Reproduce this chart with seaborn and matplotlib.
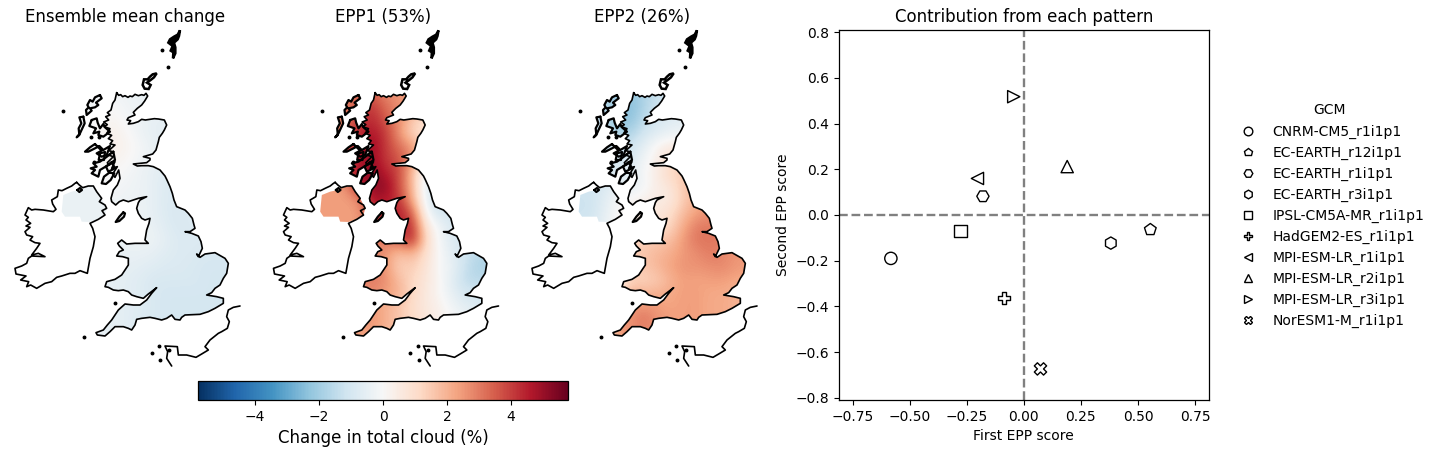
import numpy as np
import pandas as pd
import matplotlib
matplotlib.use("Agg")
import matplotlib.pyplot as plt
from matplotlib.path import Path
from matplotlib.patches import PathPatch
import seaborn as sns

# ---------- scatter data ----------
GCM = ["CNRM-CM5_r1i1p1", "EC-EARTH_r12i1p1", "EC-EARTH_r1i1p1", "EC-EARTH_r3i1p1",
       "IPSL-CM5A-MR_r1i1p1", "HadGEM2-ES_r1i1p1", "MPI-ESM-LR_r1i1p1",
       "MPI-ESM-LR_r2i1p1", "MPI-ESM-LR_r3i1p1", "NorESM1-M_r1i1p1"]
EPP1_SCORE = [-0.582, 0.554, -0.179, 0.381, -0.277, -0.088, -0.203, 0.190, -0.044, 0.073]
EPP2_SCORE = [-0.190, -0.064, 0.082, -0.123, -0.070, -0.363, 0.160, 0.212, 0.518, -0.674]
MARKERS = ["o", "p", "H", "h", "s", "P", "<", "^", ">", "X"]

TITLES = ["Ensemble mean change", "EPP1 (53%)", "EPP2 (26%)"]

# ---------- gridded fields (% change), rows north to south ----------
GRID_X = [180, 220, 260, 300, 340, 380, 420, 460, 500, 540, 580, 620, 660, 700]
GRID_Y = [220, 260, 300, 340, 380, 420, 460, 500, 540, 580, 620, 660, 700, 740, 780, 820, 860, 900, 940]

MEAN_FIELD = [
 [-.3,-.3,-.2,-.2,-.1,-.3,-.4,-.4,-.4,-.4,-.4,-.4,-.4,-.4],
 [-.3,-.3,-.2,-.1, .0,-.2,-.3,-.4,-.4,-.4,-.4,-.4,-.4,-.4],
 [-.3,-.3,-.1, .0, .2,-.1,-.3,-.5,-.5,-.5,-.5,-.5,-.5,-.5],
 [-.3,-.3,-.1, .1, .3, .1,-.3,-.5,-.6,-.6,-.6,-.6,-.6,-.6],
 [-.3,-.3,-.1, .1, .3, .2,-.1,-.4,-.6,-.6,-.6,-.6,-.6,-.6],
 [-.3,-.3,-.1, .0, .2, .1,-.2,-.4,-.6,-.7,-.7,-.7,-.7,-.7],
 [-.3,-.3,-.2, .0, .1,-.1,-.3,-.5,-.7,-.7,-.7,-.7,-.7,-.7],
 [-.4,-.4,-.3,-.2,-.1,-.2,-.3,-.5,-.8,-.8,-.8,-.8,-.8,-.8],
 [-.4,-.4,-.4,-.4,-.2,-.3,-.3,-.5,-.8,-.8,-.8,-.8,-.8,-.8],
 [-.4,-.4,-.4,-.4,-.3,-.3,-.3,-.5,-.8,-.9,-.7,-.7,-.7,-.7],
 [-.4,-.4,-.4,-.4,-.3,-.3,-.3,-.4,-.7,-.9,-.8,-.8,-.8,-.8],
 [-.4,-.4,-.4,-.4,-.4,-.4,-.3,-.3,-.6,-.8,-.8,-.8,-.8,-.8],
 [-.4,-.4,-.4,-.4,-.5,-.4,-.4,-.5,-.7,-.8,-.8,-.9,-.9,-.9],
 [-.4,-.4,-.4,-.4,-.5,-.5,-.6,-.7,-.8,-.8,-.9,-1.,-1.,-1.],
 [-.4,-.4,-.4,-.4,-.5,-.6,-.7,-.9,-.9,-.9,-.9,-1.,-1.,-1.],
 [-.4,-.4,-.4,-.4,-.5,-.6,-.7,-.9,-1.,-1.,-1.,-1.,-1.,-1.],
 [-.4,-.4,-.4,-.5,-.5,-.6,-.7,-.9,-1.,-1.,-1.,-1.,-1.,-1.],
 [-.4,-.4,-.4,-.5,-.5,-.6,-.8,-.9,-1.,-1.,-1.,-1.,-1.,-1.],
 [-.4,-.4,-.4,-.5,-.5,-.6,-.8,-.9,-1.,-1.,-1.,-1.,-1.,-1.],
]
EPP1_FIELD = [
 [2.4,2.4,2.8,3.2,3.4,2.8,2.5,2.4,2.0,1.0,0.,0.,0.,0.],
 [2.4,2.4,3.0,3.6,4.2,3.2,2.7,2.2,1.6,1.0,0.,0.,0.,0.],
 [2.4,2.4,3.2,4.0,4.4,3.6,2.8,1.6,1.0,0.8,0.,0.,0.,0.],
 [2.4,2.4,3.4,4.3,4.7,4.1,2.6,1.2,0.9,0.5,0.,0.,0.,0.],
 [2.4,2.4,3.6,4.6,5.0,4.1,3.2,2.6,1.0,0.,0.,0.,0.,0.],
 [2.4,2.4,3.6,4.6,5.0,4.1,3.7,2.6,0.6,-.2,-.5,0.,0.,0.],
 [2.4,2.4,3.6,4.8,5.3,4.5,3.9,1.8,-.3,-.8,-1.,-1.,-1.,-1.],
 [2.4,2.4,2.5,4.5,5.1,5.2,3.8,2.0,-.6,-1.,-1.1,-1.,-1.,-1.],
 [2.4,2.4,2.4,2.6,4.8,4.6,4.2,2.2,-.4,-1.3,-1.2,-1.,-1.,-1.],
 [2.4,2.4,2.4,2.4,4.0,4.4,4.6,3.6,0.,-1.,-1.,-1.,-1.,-1.],
 [2.4,2.4,2.4,2.4,3.5,4.2,4.2,4.4,0.8,-.2,-.9,-1.,-1.,-1.],
 [2.4,2.4,2.4,2.4,3.0,3.0,3.5,4.6,1.2,-.1,-.8,-1.,-1.,-1.],
 [2.4,2.4,2.4,2.6,2.8,2.6,1.7,2.0,1.0,0.,-.6,-1.2,-1.6,-1.6],
 [2.4,2.4,2.4,2.8,3.0,2.6,1.3,1.5,0.8,0.,-.4,-1.3,-1.8,-1.8],
 [2.4,2.4,2.4,2.8,3.0,2.7,1.8,1.2,0.7,0.1,-.6,-1.5,-1.5,-1.5],
 [2.4,2.4,2.4,2.6,2.8,2.5,2.0,1.2,0.6,0.1,-.5,-1.,-1.1,-1.1],
 [2.4,2.4,2.4,2.5,2.5,2.0,1.6,1.0,0.6,0.3,-.2,-.6,-.8,-.8],
 [2.4,2.4,2.4,2.6,2.6,2.1,1.6,1.2,0.7,0.3,0.,-.3,-.5,-.5],
 [2.4,2.4,2.4,2.4,2.3,2.0,1.5,1.2,0.7,0.3,0.,-.3,-.5,-.5],
]
EPP2_FIELD = [
 [-1.,-1.,-1.6,-2.0,-2.3,-1.8,-1.3,-1.,-1.,-.8,-.6,-.6,-.6,-.6],
 [-1.,-1.,-1.6,-2.2,-2.5,-1.8,-1.2,-1.,-.9,-.8,-.6,-.6,-.6,-.6],
 [-1.,-1.,-1.5,-2.2,-2.4,-1.5,-1.,-.7,-.6,-.6,-.6,-.6,-.6,-.6],
 [-1.,-1.,-1.3,-1.8,-1.8,-1.1,-.7,-.4,-.3,-.3,-.3,-.3,-.3,-.3],
 [-1.,-1.,-1.1,-1.3,-1.2,-.6,0.2,0.5,0.5,0.5,0.5,0.5,0.5,0.5],
 [-1.,-1.,-1.,-1.,-.9,-.2,0.3,1.0,1.2,1.2,1.2,1.2,1.2,1.2],
 [-1.,-1.,-1.,-.8,-.6,-.1,0.5,1.2,1.5,1.6,1.6,1.6,1.6,1.6],
 [-1.1,-1.1,-.9,-.5,-.5,-.2,0.4,0.7,1.6,1.8,2.,2.,2.,2.],
 [-1.2,-1.2,-.7,-.1,0.1,0.3,0.5,0.5,1.5,2.0,2.4,2.4,2.4,2.4],
 [-1.2,-1.2,-.6,0.,0.3,0.5,0.6,1.0,1.8,2.4,2.7,2.7,2.7,2.7],
 [-1.,-1.,-.4,0.,0.6,0.8,0.9,1.2,2.2,3.0,3.0,3.,3.,3.],
 [-1.,-1.,-.4,0.,1.2,1.4,1.5,1.7,2.5,3.1,3.1,3.,3.,3.],
 [-1.,-1.,-.4,0.,1.4,1.6,1.9,2.1,2.5,2.7,3.0,2.8,2.5,2.5],
 [-1.,-1.,-.4,0.,1.6,1.6,1.9,2.3,2.6,2.6,2.7,2.8,2.5,2.5],
 [-1.,-1.,-.4,0.,1.3,1.3,1.5,2.0,2.4,2.3,2.4,2.4,2.2,2.2],
 [-1.,-1.,-.4,1.,2.0,2.0,2.0,2.2,2.4,2.4,2.2,2.2,2.0,2.0],
 [-1.,-1.,-.4,2.,2.4,2.6,2.5,2.3,2.4,2.4,2.2,2.2,2.,2.],
 [-1.,-1.,-.4,2.5,2.6,3.2,2.6,2.4,2.4,2.4,2.2,2.2,2.,2.],
 [-1.,-1.,-.4,2.5,2.6,2.8,2.5,2.4,2.4,2.4,2.2,2.2,2.,2.],
]

# ---------- coastlines (map units) ----------
GREAT_BRITAIN = [
 (350,218),(356,226),(362,224),(368,230),(375,227),(384,232),(390,228),(397,230),(405,223),(415,227),(425,224),(432,226),(438,220),(443,228),(434,243),(425,255),(412,265),(400,277),
 (405,285),(385,293),(381,300),(392,302),(385,312),(400,310),(415,305),(425,298),(436,300),(450,298),(463,296),(475,297),(493,300),(500,315),
 (493,330),(487,340),(478,352),(475,365),(468,390),(458,402),(430,410),(450,415),(450,420),(440,428),(400,432),(412,438),(425,437),
 (445,437),(460,440),(480,450),(495,468),(500,478),(510,500),(517,520),(522,540),(530,560),(555,570),(565,580),(577,595),(582,615),
 (585,625),(570,635),(555,635),(575,640),(595,648),(603,665),(607,685),(595,710),(590,702),(600,712),(615,702),(645,698),
 (675,715),(685,730),(680,760),(670,775),(660,795),(645,805),(635,818),(620,825),(650,830),(670,835),(670,850),(645,865),
 (625,875),(600,883),(555,885),(545,892),(540,900),(525,898),(515,885),(500,895),(485,900),(465,895),(450,892),(425,895),(410,898),
 (405,915),(395,930),(385,925),(370,920),(345,920),(330,935),(315,948),(292,945),(288,938),(310,930),(322,915),(335,900),
 (345,885),(355,870),(375,852),(400,855),(420,855),(440,840),(455,820),(470,803),(445,822),(430,835),(410,830),(395,825),(385,815),
 (370,810),(355,812),(340,810),(325,802),(315,800),(320,785),(345,778),(365,765),(375,750),(385,735),(385,715),(368,710),(350,708),
 (358,695),(370,690),(358,678),(353,670),(365,660),(380,672),(405,670),(430,670),(445,670),(435,660),(440,630),(447,610),(450,595),
 (435,600),(425,595),(415,580),(410,565),(415,548),(420,540),(440,530),(415,535),(400,540),(385,545),(370,540),(358,545),(347,555),
 (335,545),(333,535),(340,510),(352,495),(360,475),(356,450),(345,472),(338,462),(352,440),(335,445),(345,425),(326,436),(322,428),(340,410),
 (325,405),(338,395),(326,392),(345,375),(330,372),(338,362),(325,356),(335,346),(320,340),(330,326),(312,320),(322,314),(311,306),(326,300),(317,290),(330,285),(322,278),(333,270),(338,250),(345,240),
]
IRELAND = [
 (230,487),(238,495),(248,503),(265,498),(280,498),(290,515),(305,535),(298,545),(315,555),(320,565),(306,572),(315,585),(295,598),(270,610),
 (278,625),(285,650),(280,680),(270,715),(262,760),(240,752),(225,760),(210,760),(185,768),(170,772),(155,785),(135,790),(110,805),(92,795),
 (80,800),(86,785),(62,780),(78,768),(48,762),(45,745),(65,738),(80,730),(85,715),(95,708),(135,710),(115,700),(95,705),(110,685),
 (120,670),(105,668),(90,660),(98,650),(80,645),(75,635),(90,622),(78,618),(92,610),(78,600),(85,592),(75,585),(85,563),(95,570),(105,568),(130,570),(160,575),(168,568),(158,552),
 (155,540),(172,530),(175,510),(186,512),(200,505),(215,498),
]
N_IRELAND_FIELD = [
 (185,575),(195,590),(240,590),(245,605),(270,606),(295,598),(315,585),(320,565),(305,535),(290,515),(280,498),(248,503),(238,510),(215,515),(190,525),
]
FRANCE = [(720,858),(700,862),(685,870),(680,890),(688,905),(682,925),(665,935),(655,940),(630,960),(615,980),(625,990),(605,1002),
          (588,1012),(560,1005),(535,1005),(532,980),(495,978),(503,995),(500,1015),(515,1038)]
LEWIS = [(300,225),(285,232),(278,245),(270,240),(262,255),(266,262),(258,270),(260,285),(275,272),(270,265),(285,262),(295,255),(288,248),(305,235)]
UIST = [(250,290),(238,292),(244,310),(236,325),(238,345),(230,352),(240,340),(254,310)]
SKYE = [(275,300),(290,295),(293,308),(300,325),(310,312),(315,322),(330,335),(310,350),(295,345),(298,335),(280,340),(288,325),(268,318)]
MULL = [(285,372),(270,382),(255,395),(265,395),(285,385),(298,378),(310,390),(330,378),(320,405),(305,410),(290,400),(305,392)]
JURA = [(340,395),(345,420),(325,435),(300,450),(295,470),(275,460),(285,450),(272,445),(290,440),(280,430),(300,425),(318,412)]
COLONSAY = [(300,400),(315,396),(312,420),(296,420)]
GIGHA = [(318,440),(335,426),(345,445),(325,455)]
KINTYRE = [(328,458),(312,470),(305,490),(318,492),(332,480),(343,460)]
ISLE_OF_MAN = [(370,577),(358,590),(347,606),(358,603),(372,590),(375,580)]
LOUGH_FOYLE = [(232,510),(240,504),(246,510),(238,516)]
ISLANDS = [LEWIS, UIST, SKYE, MULL, JURA, COLONSAY, GIGHA, KINTYRE, ISLE_OF_MAN, LOUGH_FOYLE]
SHETLAND = [(540,31),(533,44),(522,50),(510,58),(505,68),(518,78),(512,92),(520,97),(519,115),(526,100),(526,82),(522,68),(533,58),(537,48)]
ORKNEY_A = [(470,160),(458,163),(450,170),(443,178),(432,178),(428,195),(434,206),(446,207),(452,195),(441,188),(452,180),(462,172)]
ISLETS = [(485,90),(505,142),(190,272),(345,850),(252,952),(455,1000),(480,1020),(478,978),(508,990),(296,350),(282,425),(272,352)]

CMAP = "RdBu_r"
VMAX = 5.78
MAP_LEFT = [0, 258.5, 517]
W, H = 1440, 454


def closed(pts):
    p = np.array(list(pts) + [pts[0]], dtype=float)
    return Path(p, closed=False)


sns.set_style("white")
sns.set_context("notebook", rc={"font.size": 10})
plt.rcParams["font.family"] = ["DejaVu Sans"]
plt.rcParams.update({"xtick.labelsize": 10, "ytick.labelsize": 10, "axes.labelsize": 10,
                     "axes.titlesize": 12, "legend.fontsize": 10, "legend.title_fontsize": 10,
                     "xtick.bottom": True, "ytick.left": True, "axes.edgecolor": "black",
                     "xtick.color": "black", "ytick.color": "black", "text.color": "black",
                     "axes.labelcolor": "black", "axes.linewidth": 0.9,
                     "xtick.major.size": 3.5, "ytick.major.size": 3.5,
                     "xtick.major.width": 0.8, "ytick.major.width": 0.8})

fig = plt.figure(figsize=(W / 100, H / 100), dpi=100)

fields = [MEAN_FIELD, EPP1_FIELD, EPP2_FIELD]
im = None
dx = (GRID_X[1] - GRID_X[0]) / 2
dy = (GRID_Y[1] - GRID_Y[0]) / 2
clip_verts = [GREAT_BRITAIN, N_IRELAND_FIELD] + ISLANDS
for left, field, title in zip(MAP_LEFT, fields, TITLES):
    ax = fig.add_axes([left / W, 1 - 370 / H, 250 / W, 350 / H])
    ax.axis("off")
    ax.patch.set_alpha(0)
    im = ax.imshow(np.array(field), cmap=CMAP, vmin=-VMAX, vmax=VMAX, interpolation="bicubic", aspect="auto",
                   extent=[GRID_X[0] - dx, GRID_X[-1] + dx, GRID_Y[-1] + dy, GRID_Y[0] - dy], zorder=1)
    ax.set_xlim(0, 750)
    ax.set_ylim(1050, 0)
    clip = Path.make_compound_path(*[closed(v) for v in clip_verts])
    im.set_clip_path(PathPatch(clip, transform=ax.transData))
    for poly in [GREAT_BRITAIN, IRELAND + [(225, 490)]]:
        p = np.array(list(poly) + [poly[0]])
        ax.plot(p[:, 0], p[:, 1], color="black", lw=1.2, zorder=3, solid_joinstyle="round")
    for poly in ISLANDS:
        p = np.array(list(poly) + [poly[0]])
        ax.plot(p[:, 0], p[:, 1], color="black", lw=1.6, zorder=3, solid_joinstyle="round")
    fr = np.array(FRANCE)
    ax.plot(fr[:, 0], fr[:, 1], color="black", lw=1.2, zorder=3)
    for poly in [SHETLAND, ORKNEY_A]:
        p = np.array(poly)
        ax.fill(p[:, 0], p[:, 1], facecolor="black" if poly is SHETLAND else "none", edgecolor="black", lw=1.8, zorder=3)
    isl = np.array(ISLETS)
    ax.plot(isl[:, 0], isl[:, 1], ls="none", marker="o", ms=1.8, color="black", zorder=3)
    ax.set_title(title, fontsize=12, y=1.0, pad=-1.2)

# colour bar
cax = fig.add_axes([198 / W, 1 - 400 / H, 370 / W, 19 / H])
cb = fig.colorbar(im, cax=cax, orientation="horizontal")
cb.set_ticks([-4, -2, 0, 2, 4])
cb.set_label("Change in total cloud (%)", fontsize=12)
cb.outline.set_edgecolor("black")
cax.tick_params(length=3.5, width=0.8, labelsize=10)

# scatter
df = pd.DataFrame({"GCM": GCM, "x": EPP1_SCORE, "y": EPP2_SCORE})
sx = fig.add_axes([838.8 / W, 1 - 400 / H, 370 / W, 370 / H])
sx.axhline(0, color="gray", ls="--", lw=1.7, zorder=1)
sx.axvline(0, color="gray", ls="--", lw=1.7, zorder=1)
sns.scatterplot(data=df, x="x", y="y", style="GCM", markers=dict(zip(GCM, MARKERS)), ax=sx, s=78,
                color="white", edgecolor="black", linewidth=1.0, zorder=3, legend="full")
sx.set_xlim(-0.81, 0.81)
sx.set_ylim(-0.81, 0.81)
sx.set_xticks([-0.75, -0.5, -0.25, 0, 0.25, 0.5, 0.75])
sx.set_xticklabels(["\u22120.75", "\u22120.50", "\u22120.25", "0.00", "0.25", "0.50", "0.75"])
sx.set_yticks([-0.8, -0.6, -0.4, -0.2, 0, 0.2, 0.4, 0.6, 0.8])
sx.set_xlabel("First EPP score")
sx.set_ylabel("Second EPP score")
sx.set_title("Contribution from each pattern", fontsize=12, pad=6)
for s in sx.spines.values():
    s.set_visible(True)
    s.set_edgecolor("black")

sns.move_legend(sx, "upper left", bbox_to_anchor=(1222 / W, 1 - 91 / H), bbox_transform=fig.transFigure,
                frameon=False, title="GCM", labelspacing=0.5, handletextpad=0.74)
leg = sx.get_legend()
for h in leg.legend_handles:
    if hasattr(h, "set_markerfacecolor"):
        h.set_markerfacecolor("white")
        h.set_markeredgecolor("black")
        h.set_markersize(6.2)
        h.set_markeredgewidth(1.0)
    else:
        h.set_facecolor("white")
        h.set_edgecolor("black")
        h.set_sizes([36])
        h.set_linewidth(1.0)

fig.savefig("out.png", dpi=100)
